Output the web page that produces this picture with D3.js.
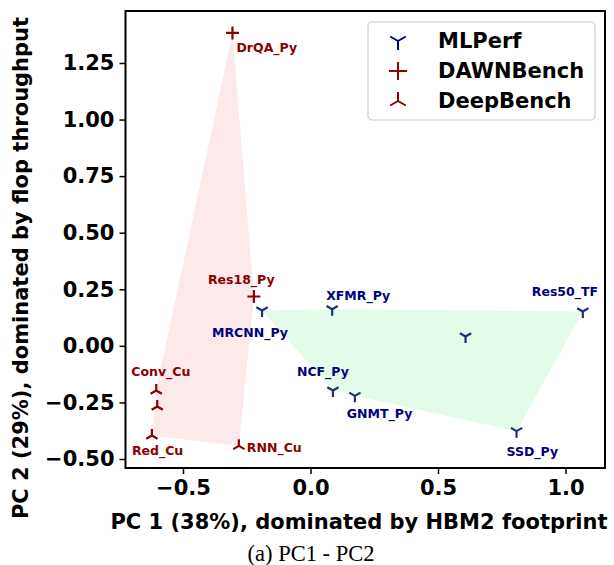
<!DOCTYPE html>
<html>
<head>
<meta charset="utf-8">
<script src="https://cdn.jsdelivr.net/npm/d3@7"></script>
<style>
  body { margin: 0; background: #fff; }
  svg text { font-family: "DejaVu Sans", sans-serif; font-weight: bold; }
</style>
</head>
<body>
<svg width="614" height="565"></svg>
<script>
// PCA scores
var mlperfNames = ["MRCNN_Py", "XFMR_Py", "Res50_TF", "", "NCF_Py", "GNMT_Py", "SSD_Py"];
var mlperfPC1 = [-0.19, 0.085, 1.068, 0.608, 0.088, 0.174, 0.808];
var mlperfPC2 = [0.156, 0.162, 0.152, 0.041, -0.197, -0.221, -0.377];

var dawnNames = ["DrQA_Py", "Res18_Py"];
var dawnPC1 = [-0.306, -0.222];
var dawnPC2 = [1.383, 0.218];

var deepNames = ["Conv_Cu", "", "Red_Cu", "RNN_Cu"];
var deepPC1 = [-0.605, -0.601, -0.622, -0.281];
var deepPC2 = [-0.197, -0.268, -0.396, -0.442];

var xTicks = [-0.5, 0.0, 0.5, 1.0];
var yTicks = [-0.5, -0.25, 0, 0.25, 0.5, 0.75, 1.0, 1.25];

// where each label sits relative to its marker (px)
var labelOffset = {
    "DrQA_Py": [4, 15], "Res18_Py": [-46, -17], "MRCNN_Py": [-50, 22],
    "XFMR_Py": [-6, -14], "Res50_TF": [-51, -20], "NCF_Py": [-36, -19],
    "GNMT_Py": [-8, 18], "SSD_Py": [-10, 20], "Conv_Cu": [-25, -19],
    "Red_Cu": [-20, 15], "RNN_Cu": [8, 2]
};

var svg = d3.select("svg");
var pLeft = 125.5, pRight = 605, pTop = 11, pBottom = 468;

var x = d3.scaleLinear().domain([-0.7255, 1.1549]).range([pLeft, pRight]);
var y = d3.scaleLinear().domain([-0.5398, 1.4797]).range([pBottom, pTop]);

var navy = "#000080", navyMark = "#1f2f7c", red = "#8b0000";

function pts(names, a, b) {
    return names.map(function(n, i) { return { name: n, pc1: a[i], pc2: b[i] }; });
}
var mlperf = pts(mlperfNames, mlperfPC1, mlperfPC2);
var dawn = pts(dawnNames, dawnPC1, dawnPC2);
var deep = pts(deepNames, deepPC1, deepPC2);

// convex hulls behind the points
function hull(data, fill) {
    var h = d3.polygonHull(data.map(function(d) { return [x(d.pc1), y(d.pc2)]; }));
    svg.append("path")
        .attr("d", "M" + h.join("L") + "Z")
        .attr("fill", fill);
}
hull(dawn.concat(deep), "#fce9e9");
hull(mlperf, "#e4fbe9");

// marker shapes
function markerPath(kind, r) {
    var c = 0.866 * r, s = 0.5 * r;
    if (kind == "tri_down") return "M0,0L0," + r + "M0,0L" + (-c) + "," + (-s) + "M0,0L" + c + "," + (-s);
    if (kind == "tri_up") return "M0,0L0," + (-r) + "M0,0L" + (-c) + "," + s + "M0,0L" + c + "," + s;
    return "M" + (-r) + ",0L" + r + ",0M0," + (-r) + "L0," + r;
}

function series(data, kind, markColor, textColor) {
    var g = svg.append("g");
    g.selectAll("path")
        .data(data)
        .enter().append("path")
        .attr("transform", function(d) { return "translate(" + x(d.pc1) + "," + y(d.pc2) + ")"; })
        .attr("d", markerPath(kind, 6.5))
        .attr("stroke", markColor)
        .attr("stroke-width", 2.2)
        .attr("fill", "none");
    g.selectAll("text")
        .data(data.filter(function(d) { return d.name != ""; }))
        .enter().append("text")
        .attr("x", function(d) { return x(d.pc1) + labelOffset[d.name][0]; })
        .attr("y", function(d) { return y(d.pc2) + labelOffset[d.name][1]; })
        .attr("dominant-baseline", "central")
        .attr("font-size", "12.5px")
        .attr("fill", textColor)
        .text(function(d) { return d.name; });
}
series(mlperf, "tri_down", navyMark, navy);
series(dawn, "plus", red, red);
series(deep, "tri_up", red, red);

// axes
var xAxis = svg.append("g")
    .attr("transform", "translate(0," + pBottom + ")")
    .call(d3.axisBottom(x).tickValues(xTicks).tickSize(6).tickPadding(6).tickFormat(d3.format(".1f")));
var yAxis = svg.append("g")
    .attr("transform", "translate(" + pLeft + ",0)")
    .call(d3.axisLeft(y).tickValues(yTicks).tickSize(6).tickPadding(5).tickFormat(d3.format(".2f")));
[xAxis, yAxis].forEach(function(a) {
    a.select(".domain").remove();
    a.selectAll("line").attr("stroke", "#000").attr("stroke-width", 1.5);
    a.selectAll("text")
        .attr("font-size", "21px")
        .attr("font-family", "DejaVu Sans")
        .attr("font-weight", "bold")
        .attr("fill", "#000");
});

// frame
svg.append("rect")
    .attr("x", pLeft).attr("y", pTop)
    .attr("width", pRight - pLeft).attr("height", pBottom - pTop)
    .attr("fill", "none").attr("stroke", "#000").attr("stroke-width", 2);

// axis labels
svg.append("text")
    .attr("x", 359).attr("y", 522)
    .attr("text-anchor", "middle").attr("dominant-baseline", "central")
    .attr("font-size", "21px")
    .text("PC 1 (38%), dominated by HBM2 footprint");
svg.append("text")
    .attr("transform", "translate(21,268) rotate(-90)")
    .attr("text-anchor", "middle").attr("dominant-baseline", "central")
    .attr("font-size", "21px")
    .text("PC 2 (29%), dominated by flop throughput");

// caption
svg.append("text")
    .attr("x", 311).attr("y", 553)
    .attr("text-anchor", "middle").attr("dominant-baseline", "central")
    .style("font-family", "'Liberation Serif', serif").style("font-weight", "normal")
    .attr("font-size", "22.5px")
    .text("(a) PC1 - PC2");

// legend
var legend = svg.append("g");
legend.append("rect")
    .attr("x", 368).attr("y", 22).attr("width", 227).attr("height", 98)
    .attr("rx", 4).attr("fill", "#fff").attr("fill-opacity", 0.8)
    .attr("stroke", "#ccc").attr("stroke-width", 1.2);
var legendItems = [["MLPerf", "tri_down", navy], ["DAWNBench", "plus", red], ["DeepBench", "tri_up", red]];
legendItems.forEach(function(it, i) {
    var ly = 41 + i * 30;
    legend.append("path")
        .attr("transform", "translate(398," + ly + ")")
        .attr("d", markerPath(it[1], 9))
        .attr("stroke", it[2]).attr("stroke-width", 2).attr("fill", "none");
    legend.append("text")
        .attr("x", 438).attr("y", ly)
        .attr("dominant-baseline", "central")
        .attr("font-size", "21px")
        .text(it[0]);
});
</script>
</body>
</html>
